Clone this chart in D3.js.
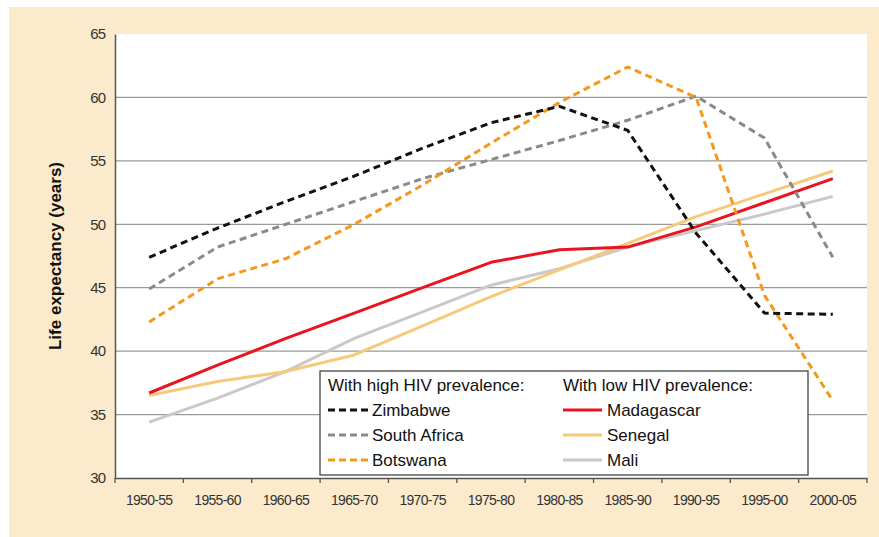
<!DOCTYPE html>
<html>
<head>
<meta charset="utf-8">
<script src="https://cdn.jsdelivr.net/npm/d3@7"></script>
<style>
  html, body { margin: 0; padding: 0; background: #ffffff; }
  svg { display: block; }
  text { font-family: "Liberation Sans", Arial, sans-serif; }
</style>
</head>
<body>
<svg id="chart" width="879" height="537"></svg>
<script>
const categories = ["1950-55","1955-60","1960-65","1965-70","1970-75","1975-80","1980-85","1985-90","1990-95","1995-00","2000-05"];
const yTicks = [30,35,40,45,50,55,60,65];

const zimbabwe    = [47.4, 49.7, 51.8, 53.8, 56.0, 58.0, 59.3, 57.4, 49.3, 43.0, 42.9];
const southAfrica = [44.9, 48.2, 50.0, 51.8, 53.6, 55.1, 56.6, 58.2, 60.1, 56.8, 47.4];
const botswana    = [42.3, 45.7, 47.3, 50.0, 53.1, 56.4, 59.6, 62.4, 60.0, 44.4, 36.1];
const madagascar  = [36.7, 38.9, 41.0, 43.0, 45.0, 47.0, 48.0, 48.2, 49.8, 51.7, 53.6];
const senegal     = [36.5, 37.6, 38.4, 39.7, 42.0, 44.3, 46.4, 48.5, 50.6, 52.4, 54.2];
const mali        = [34.4, 36.3, 38.4, 41.0, 43.1, 45.2, 46.5, 48.2, 49.5, 50.8, 52.2];

const seriesNames = ["Zimbabwe","South Africa","Botswana","Madagascar","Senegal","Mali"];
const seriesValues = [zimbabwe, southAfrica, botswana, madagascar, senegal, mali];
const seriesColors = ["#111111","#8a8a8a","#f39a1c","#e8141f","#f7c97b","#c9c9c9"];
const seriesDashed = [true, true, true, false, false, false];

const svg = d3.select("#chart");
const W = 879, H = 537;

// beige panel
svg.append("rect").attr("x", 9).attr("y", 7).attr("width", W - 9).attr("height", H - 7).attr("fill", "#fbebcc");

const m = {left: 115, right: 867, top: 34, bottom: 478};
svg.append("rect").attr("x", m.left).attr("y", m.top).attr("width", m.right - m.left).attr("height", m.bottom - m.top).attr("fill", "#ffffff");

const x = d3.scaleBand().domain(categories).range([m.left, m.right]).paddingInner(0).paddingOuter(0);
const y = d3.scaleLinear().domain([30, 65]).range([m.bottom, m.top]);

// gridlines
svg.append("g").selectAll("line").data(yTicks.filter(t => t > 30 && t < 65)).join("line")
  .attr("x1", m.left).attr("x2", m.right)
  .attr("y1", d => y(d)).attr("y2", d => y(d))
  .attr("stroke", "#9a9a9a").attr("stroke-width", 1.2);

// y axis
const yAxis = svg.append("g").attr("transform", `translate(${m.left},0)`)
  .call(d3.axisLeft(y).tickValues(yTicks).tickSize(0).tickPadding(10));
yAxis.select(".domain").attr("stroke", "#555").attr("stroke-width", 1.5);
yAxis.selectAll("text").attr("font-size", 15).attr("fill", "#333")
  .attr("font-family", "'Liberation Sans', Arial, sans-serif").attr("letter-spacing", -1);

// x axis
const xAxis = svg.append("g").attr("transform", `translate(0,${m.bottom})`)
  .call(d3.axisBottom(x).tickSize(0).tickPadding(17));
xAxis.select(".domain").attr("stroke", "#555").attr("stroke-width", 1.5);
xAxis.selectAll("text").attr("font-size", 14).attr("fill", "#333")
  .attr("font-family", "'Liberation Sans', Arial, sans-serif").attr("letter-spacing", -0.7);
// tick marks at band boundaries
const bounds = categories.map(c => x(c)).concat([m.right]);
svg.append("g").selectAll("line").data(bounds).join("line")
  .attr("x1", d => d).attr("x2", d => d)
  .attr("y1", m.bottom).attr("y2", m.bottom + 5)
  .attr("stroke", "#555").attr("stroke-width", 1.3);

// axis title
svg.append("text")
  .attr("transform", `translate(61,256) rotate(-90)`)
  .attr("text-anchor", "middle")
  .attr("font-size", 17).attr("font-weight", "bold").attr("fill", "#111")
  .text("Life expectancy (years)");

// lines
const line = d3.line()
  .x((d, i) => x(categories[i]) + x.bandwidth() / 2)
  .y(d => y(d));

const order = [5, 4, 3, 1, 2, 0];
order.forEach(i => {
  svg.append("path")
    .datum(seriesValues[i])
    .attr("d", line)
    .attr("fill", "none")
    .attr("stroke", seriesColors[i])
    .attr("stroke-width", 3)
    .attr("stroke-linejoin", "round")
    .attr("stroke-dasharray", seriesDashed[i] ? "7,4.5" : null);
});

// legend
const lg = svg.append("g");
lg.append("rect").attr("x", 320).attr("y", 371).attr("width", 488).attr("height", 104)
  .attr("fill", "#ffffff").attr("stroke", "#444").attr("stroke-width", 1.3);
const headers = [["With high HIV prevalence:", 328], ["With low HIV prevalence:", 563]];
headers.forEach(h => {
  lg.append("text").attr("x", h[1]).attr("y", 391).attr("font-size", 17).attr("fill", "#111").text(h[0]);
});
const rowY = [410, 435, 460];
seriesNames.forEach((name, i) => {
  const col = i < 3 ? 0 : 1;
  const r = i % 3;
  const x0 = col === 0 ? 328 : 563;
  const x1 = col === 0 ? 369 : 602;
  const tx = col === 0 ? 372 : 607;
  lg.append("line").attr("x1", x0).attr("x2", x1).attr("y1", rowY[r]).attr("y2", rowY[r])
    .attr("stroke", seriesColors[i]).attr("stroke-width", 3)
    .attr("stroke-dasharray", seriesDashed[i] ? "7,4" : null);
  lg.append("text").attr("x", tx).attr("y", rowY[r] + 6).attr("font-size", 17).attr("fill", "#111").text(name);
});
</script>
</body>
</html>
